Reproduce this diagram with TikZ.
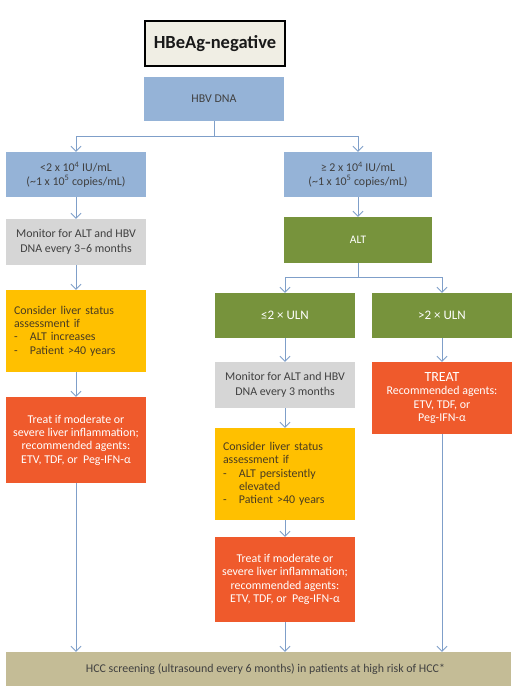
\documentclass[tikz,border=0pt]{standalone}
\usepackage{fontspec}
\setmainfont{Carlito}
\usetikzlibrary{arrows.meta}
\definecolor{cblue}{HTML}{95B3D7}
\definecolor{cgray}{HTML}{D6D6D6}
\definecolor{cyel}{HTML}{FFC000}
\definecolor{cred}{HTML}{EF5A2C}
\definecolor{cgreen}{HTML}{77933C}
\definecolor{ctan}{HTML}{C4BC96}
\definecolor{ctitle}{HTML}{F0EEE4}
\definecolor{ctxt}{HTML}{404040}
\definecolor{cytxt}{HTML}{4A3C22}
\definecolor{cline}{HTML}{7F9FC9}
\begin{document}
\begin{tikzpicture}[x=1pt,y=-1pt,
  font=\fontsize{11.9}{13.4}\selectfont,
  box/.style={draw=none, inner sep=0pt, align=center, minimum width=140pt},
  bluebox/.style={box, fill=cblue, text=ctxt},
  graybox/.style={box, fill=cgray, text=ctxt},
  yelbox/.style={box, fill=cyel, text=cytxt},
  redbox/.style={box, fill=cred, text=white},
  greenbox/.style={box, fill=cgreen, text=white, font=\fontsize{13}{15}\selectfont},
  arr/.style={draw=cline, line width=0.9pt, -{Straight Barb[length=5pt,width=10pt,line width=0.9pt]}},
  ln/.style={draw=cline, line width=0.9pt}]
\useasboundingbox[fill=white] (0,0) rectangle (518,691);

\node[box, fill=ctitle, draw=black, line width=2.5pt, minimum width=140pt, minimum height=45pt,
  font=\fontsize{18.5}{21}\selectfont\bfseries, text=black!90] (title) at (215,43.5) {HBeAg-negative};

\node[bluebox, minimum height=44pt] (hbv) at (214,99) {HBV DNA};

\node[bluebox, minimum height=45pt] (lo) at (76,174.5)
  {<2 x 10\textsuperscript{4} IU/mL\\(\textasciitilde 1 x 10\textsuperscript{5} copies/mL)};
\node[bluebox, minimum width=148pt, minimum height=45pt] (hi) at (358,174.5)
  {≥ 2 x 10\textsuperscript{4} IU/mL\\(\textasciitilde 1 x 10\textsuperscript{5} copies/mL)};

\node[graybox, minimum height=46pt, font=\fontsize{11.9}{15.6}\selectfont] (lmon) at (76,242)
  {Monitor for ALT and HBV\\DNA every 3–6 months};

\node[yelbox, minimum height=82pt, text width=124pt, align=left] (lyel) at (76,331)
  {Consider liver status\\assessment if\\\makebox[16pt][l]{-}ALT increases\\\makebox[16pt][l]{-}Patient >40 years};

\node[redbox, minimum height=86pt] (lred) at (76,440)
  {Treat if moderate or\\severe liver inflammation;\\recommended agents:\\ETV, TDF, or\ \ Peg-IFN-α};

\node[greenbox, minimum width=148pt, minimum height=46pt, font=\fontsize{11.5}{13}\selectfont] (alt) at (358,240) {ALT};

\node[greenbox, minimum height=45pt] (le) at (285,315.5) {≤2 × ULN};
\node[greenbox, minimum height=45pt] (gt) at (442,315.5) {>2 × ULN};

\node[graybox, minimum height=46pt, font=\fontsize{11.9}{15.6}\selectfont] (mmon) at (285,385)
  {Monitor for ALT and HBV\\DNA every 3 months};

\node[redbox, minimum height=72pt] (treat) at (442,398)
  {{\fontsize{14}{16}\selectfont TREAT}\\Recommended agents:\\ETV, TDF, or\\Peg-IFN-α};

\node[yelbox, minimum height=92pt, text width=124pt, align=left] (myel) at (285,474)
  {Consider liver status\\assessment if\\\makebox[16pt][l]{-}ALT persistently\\\makebox[16pt][l]{}elevated\\\makebox[16pt][l]{-}Patient >40 years};

\node[redbox, minimum height=85pt] (mred) at (285,579.5)
  {Treat if moderate or\\severe liver inflammation;\\recommended agents:\\ETV, TDF, or\ \ Peg-IFN-α};

\node[box, fill=ctan, text=ctxt, minimum width=505pt, minimum height=34pt] (bot) at (258.5,669)
  {\hspace*{14pt}HCC screening (ultrasound every 6 months) in patients at high risk of HCC*};

% connectors
\coordinate (j1) at (214,136);
\draw[ln] (hbv.south) -- (j1);
\draw[arr] (j1) -| (lo.north);
\draw[arr] (j1) -| (hi.north);
\draw[arr] (lo.south) -- (lmon.north);
\draw[arr] (lmon.south) -- (lyel.north);
\draw[arr] (lyel.south) -- (lred.north);
\draw[arr] (lred.south) -- (lred.south |- bot.north);
\draw[arr] (hi.south) -- (alt.north);
\coordinate (j2) at (358,277);
\draw[ln] (alt.south) -- (j2);
\draw[arr] (j2) -| (le.north);
\draw[arr] (j2) -| (gt.north);
\draw[arr] (le.south) -- (mmon.north);
\draw[arr] (mmon.south) -- (myel.north);
\draw[arr] (myel.south) -- (mred.north);
\draw[arr] (mred.south) -- (mred.south |- bot.north);
\draw[arr] (gt.south) -- (treat.north);
\draw[arr] (treat.south) -- (treat.south |- bot.north);
\end{tikzpicture}
\end{document}
